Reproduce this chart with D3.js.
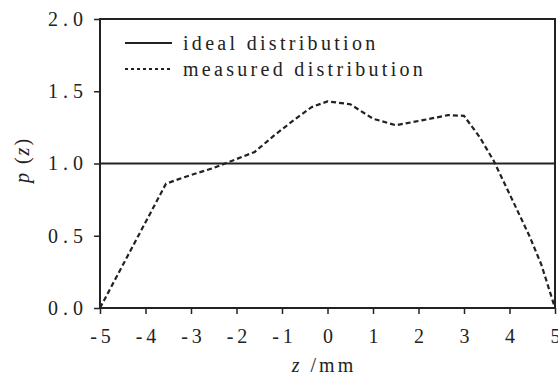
<!DOCTYPE html>
<html>
<head>
<meta charset="utf-8">
<script src="https://cdn.jsdelivr.net/npm/d3@7"></script>
<style>
  body { margin: 0; background: #fff; }
</style>
</head>
<body>
<svg id="chart" width="558" height="378"></svg>
<script>
// measured distribution
const zValues = [-5, -3.55, -3.2, -2.5, -2.25, -1.6, -1.15, -0.7, -0.35, 0, 0.5, 1.0, 1.5, 2.1, 2.65, 3.0, 3.35, 3.65, 4.0, 4.45, 4.7, 5];
const measured = [0, 0.86, 0.9, 0.97, 1.0, 1.08, 1.2, 1.31, 1.39, 1.43, 1.41, 1.31, 1.265, 1.30, 1.335, 1.33, 1.18, 1.02, 0.79, 0.49, 0.3, 0];
const idealValue = 1.0;

const xTicks = [-5, -4, -3, -2, -1, 0, 1, 2, 3, 4, 5];
const yTicks = [0, 0.5, 1.0, 1.5, 2.0];
const legendLabels = ['ideal distribution', 'measured distribution'];

const margin = {left: 100, right: 3, top: 19, bottom: 70};
const width = 558, height = 378;
const serif = '"Liberation Serif"';
const ink = '#222';

const svg = d3.select('#chart');

const x = d3.scaleLinear().domain([-5, 5]).range([margin.left, width - margin.right]);
const y = d3.scaleLinear().domain([0, 2]).range([height - margin.bottom, margin.top]);

// frame
svg.append('rect')
  .attr('x', x(-5)).attr('y', y(2))
  .attr('width', x(5) - x(-5)).attr('height', y(0) - y(2))
  .attr('fill', 'none').attr('stroke', ink).attr('stroke-width', 2);

// x axis
const xAxis = svg.append('g').attr('transform', `translate(0,${y(0)})`);
xAxis.call(d3.axisBottom(x).tickValues(d3.range(-5, 5.01, 0.5)).tickSize(3).tickFormat(''))
  .call(g => g.select('.domain').remove());
xAxis.call(d3.axisBottom(x).tickValues(xTicks).tickSize(6).tickPadding(15)
  .tickFormat(d => d))
  .call(g => g.select('.domain').remove());
xAxis.selectAll('line').attr('stroke', ink).attr('stroke-width', 1.5);
xAxis.selectAll('text')
  .style('font-family', serif).style('font-size', '20px')
  .style('letter-spacing', '4px').attr('dx', '2px').attr('fill', ink);

// y axis
const yAxis = svg.append('g').attr('transform', `translate(${x(-5)},0)`);
yAxis.call(d3.axisLeft(y).tickValues(d3.range(0, 2.01, 0.25)).tickSize(3).tickFormat(''))
  .call(g => g.select('.domain').remove());
yAxis.call(d3.axisLeft(y).tickValues(yTicks).tickSize(6).tickPadding(6)
  .tickFormat(d3.format('.1f')))
  .call(g => g.select('.domain').remove());
yAxis.selectAll('line').attr('stroke', ink).attr('stroke-width', 1.5);
yAxis.selectAll('text')
  .style('font-family', serif).style('font-size', '20px')
  .style('letter-spacing', '5px').attr('fill', ink);

// ideal line
svg.append('line')
  .attr('x1', x(-5)).attr('x2', x(5))
  .attr('y1', y(idealValue)).attr('y2', y(idealValue))
  .attr('stroke', ink).attr('stroke-width', 2);

// measured line
const line = d3.line()
  .x((d, i) => x(zValues[i]))
  .y(d => y(d))
  .curve(d3.curveLinear);

svg.append('path')
  .datum(measured)
  .attr('d', line)
  .attr('fill', 'none')
  .attr('stroke', ink)
  .attr('stroke-width', 2.2)
  .attr('stroke-dasharray', '5,3');

// legend
const legend = svg.append('g');
legendLabels.forEach((label, i) => {
  const ly = 43 + i * 26;
  legend.append('line')
    .attr('x1', 125).attr('x2', 172)
    .attr('y1', ly).attr('y2', ly)
    .attr('stroke', ink)
    .attr('stroke-width', i === 0 ? 2 : 2.2)
    .attr('stroke-dasharray', i === 0 ? null : '3,3');
  legend.append('text')
    .attr('x', 183).attr('y', ly + 7)
    .style('font-family', serif)
    .style('font-size', '20px')
    .style('letter-spacing', '3.3px')
    .attr('fill', ink)
    .text(label);
});

// axis titles
svg.append('text')
  .attr('x', 324).attr('y', 372)
  .attr('text-anchor', 'middle')
  .style('font-family', serif)
  .style('font-size', '20px')
  .style('letter-spacing', '3px')
  .attr('fill', ink)
  .html('<tspan style="font-style:italic">z</tspan> /mm');

svg.append('text')
  .attr('transform', 'translate(29,160) rotate(-90)')
  .attr('text-anchor', 'middle')
  .style('font-family', serif)
  .style('font-size', '20px')
  .style('letter-spacing', '2px')
  .attr('fill', ink)
  .html('<tspan style="font-style:italic">p</tspan> (<tspan style="font-style:italic">z</tspan>)');
</script>
</body>
</html>
